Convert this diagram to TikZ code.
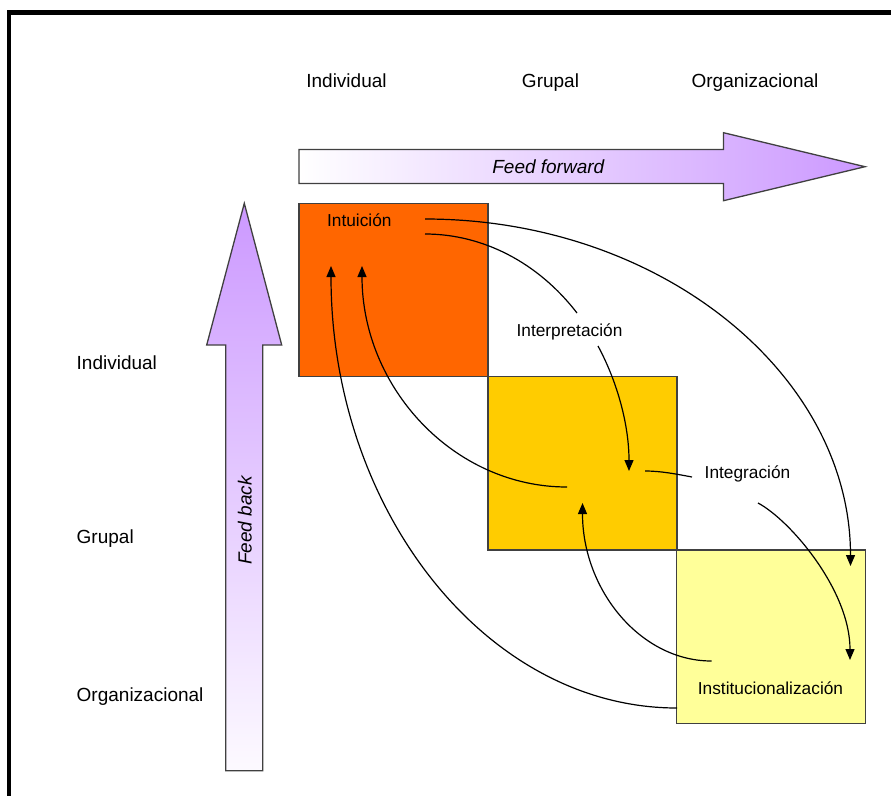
\documentclass[tikz,border=0pt]{standalone}
\usepackage{fontspec}
\setmainfont{Liberation Sans}
\usetikzlibrary{arrows.meta}
\definecolor{naranja}{HTML}{FF6600}
\definecolor{oro}{HTML}{FFCC00}
\definecolor{crema}{HTML}{FFFF99}
\definecolor{lila}{HTML}{CC99FF}
\definecolor{borde}{HTML}{404040}
\tikzset{%
    cuad/.style={draw=borde,line width=1.3pt,minimum width=189pt,minimum height=173.4pt,inner sep=0pt,outer sep=0pt},
    lbl/.style={font=\fontsize{19}{22}\selectfont,anchor=base,inner sep=0pt},
    etq/.style={font=\fontsize{17.3}{20}\selectfont,anchor=base,inner sep=0pt},
    flecha/.style={draw=borde,line width=1.3pt},
    linea/.style={line width=1.2pt},
    flujo/.style={line width=1.2pt,-{Triangle[length=11pt,width=9pt]}}
}

\begin{document}
\begin{tikzpicture}[x=1pt,y=-1pt]
        \useasboundingbox (0,0) rectangle (891,796);
        \draw[line width=5pt] (7.3,12.5) -- (891,12.5);
        \draw[line width=3.4pt] (9,10) -- (9,796);
        \node[lbl] (cI) at (346.5,87) {Individual};
        \node[lbl] (cG) at (550.5,87) {Grupal};
        \node[lbl] (cO) at (755,87) {Organizacional};
        \node[lbl,anchor=base west] (fI) at (76.5,369.3) {Individual};
        \node[lbl,anchor=base west] (fG) at (76.5,543.3) {Grupal};
        \node[lbl,anchor=base west] (fO) at (76.5,701.5) {Organizacional};
        \draw[flecha,left color=white,right color=lila] (299,149.5) -- (723.5,149.5) -- (723.5,132.7) -- (865,166.7) -- (723.5,200.7) -- (723.5,183.5) -- (299,183.5) -- cycle;
        \draw[flecha,top color=lila,bottom color=lila!5] (244.3,203.3) -- (281.7,345) -- (262.7,345) -- (262.7,770.7) -- (225.7,770.7) -- (225.7,345) -- (206.7,345) -- cycle;
        \node[lbl] (ff) at (548.3,173.5) {\itshape Feed forward};
        \node[lbl,rotate=90] (fb) at (251.7,520.5) {\itshape Feed back};
        \node[cuad,fill=naranja] (intu) at (393.5,290) {};
        \node[cuad,fill=oro] (inte) at (582.5,463.3) {};
        \node[cuad,fill=crema] (inst) at (771.3,636.7) {};
        \node[etq] (tIntu) at (359.3,226.5) {Intuición};
        \node[etq] (tInterp) at (569.5,336) {Interpretación};
        \node[etq] (tInteg) at (747.5,478.3) {Integración};
        \node[etq] (tInst) at (770.5,694) {Institucionalización};
        \coordinate (intuA) at (425,219);
        \coordinate (intuB) at (425,234);
        \coordinate (intuTipA) at (331,266);
        \coordinate (intuTipB) at (362,266);
        \coordinate (interpIn) at (577,313);
        \coordinate (interpOut) at (598,346);
        \coordinate (integIn) at (629,471);
        \coordinate (integOut) at (645,471);
        \coordinate (integL) at (692,477);
        \coordinate (integR) at (758,503);
        \coordinate (integBack) at (567,487);
        \coordinate (integTip) at (582.5,503);
        \coordinate (instA) at (850.5,566);
        \coordinate (instB) at (850,660);
        \coordinate (instC) at (711.5,661);
        \coordinate (instD) at (677,708);
        \draw[flujo] (intuA) .. controls +(235,0) and +(0,-192) .. (instA);
        \draw[linea] (intuB) .. controls +(58,0) and +(-38.7,-50.3) .. (interpIn);
        \draw[flujo] (interpOut) .. controls +(20.3,37.7) and +(0,-44.4) .. (integIn);
        \draw[linea] (integOut) .. controls +(16,0) and +(-16,-3) .. (integL);
        \draw[flujo] (integR) .. controls +(32,17) and +(0,-70) .. (instB);
        \draw[flujo] (integBack) .. controls +(-113,0) and +(0,122) .. (intuTipB);
        \draw[flujo] (instD) .. controls +(-191,0) and +(0,244) .. (intuTipA);
        \draw[flujo] (instC) .. controls +(-71,0) and +(0,87) .. (integTip);
    \end{tikzpicture}
\end{document}
